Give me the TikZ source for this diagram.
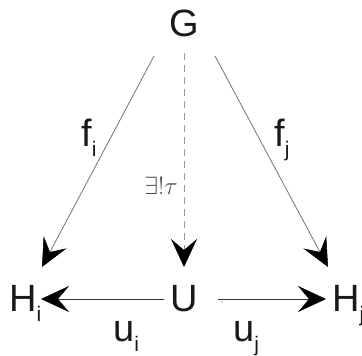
\documentclass[tikz,border=0pt]{standalone}
\usepackage{fontspec}
\setmainfont{Liberation Sans}
\usetikzlibrary{arrows.meta}
\newcommand{\mysub}[1]{\raisebox{-0.28em}{\fontsize{21}{21}\selectfont #1}}
\begin{document}
\begin{tikzpicture}[x=1pt,y=-1pt,
  lbl/.style={inner sep=0pt, text=black!90, font=\fontsize{38}{40}\selectfont},
  small/.style={inner sep=0pt, text=black!70, font=\fontsize{27}{28}\selectfont},
  bigtip/.style={-{Stealth[length=28pt,width=26pt,inset=11pt,color=black,fill=black,line width=0.5pt]}},
  diag/.style={bigtip, draw=black!55, line width=0.8pt},
  horiz/.style={bigtip, draw=black!80, line width=0.9pt},
  dashline/.style={bigtip, draw=black!40, line width=0.9pt, dash pattern=on 7pt off 5pt}
]
\useasboundingbox (0,0) rectangle (362,356);
% nodes
\node[lbl, anchor=base] (G) at (184,37) {G};
\node[lbl, anchor=base west] (Hi) at (9,311) {H\mysub{i}};
\node[lbl, anchor=base] (U) at (184,311) {U};
\node[lbl, anchor=base west] (Hj) at (332,311) {H\mysub{j}};
% connector end points
\coordinate (fiS) at (154,56);
\coordinate (fiE) at (42,267);
\coordinate (fjS) at (215,56);
\coordinate (fjE) at (328,267);
\coordinate (tS) at (184,53);
\coordinate (tE) at (184,267);
\coordinate (uiS) at (164,299);
\coordinate (uiE) at (41,299);
\coordinate (ujS) at (218,299);
\coordinate (ujE) at (326,299);
% connectors
\draw[diag] (fiS) -- (fiE);
\draw[diag] (fjS) -- (fjE);
\draw[dashline] (tS) -- (tE);
\draw[horiz] (uiS) -- (uiE);
\draw[horiz] (ujS) -- (ujE);
\fill[black!60] (222,302) circle (0.7);
% labels
\node[lbl, anchor=base west] (lfi) at (81,146) {f\mysub{i}};
\node[lbl, anchor=base west] (lfj) at (274,146) {f\mysub{j}};
\node[small, anchor=base east] (ltau) at (178,194) {$\exists!\tau$};
\node[lbl, anchor=base west] (lui) at (113,341) {u\mysub{i}};
\node[lbl, anchor=base west] (luj) at (233,341) {u\mysub{j}};
\end{tikzpicture}
\end{document}
